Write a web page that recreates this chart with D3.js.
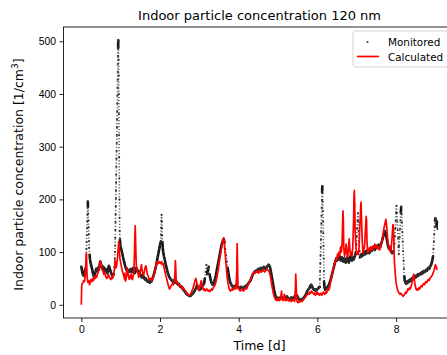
<!DOCTYPE html>
<html>
<head>
<meta charset="utf-8">
<script src="https://cdn.jsdelivr.net/npm/d3@7"></script>
<style>
  body { margin: 0; background: #fff; }
  svg { display: block; font-family: "DejaVu Sans", sans-serif; }
  .axis text { font-size: 10.4px; fill: #000; }
  .axis path, .axis line { stroke: #000; stroke-width: 0.85; }
</style>
</head>
<body>
<div id="chart"></div>
<script>
// time [d], concentration [1/cm3]
const monitored = [
  [0.00,72],[0.02,64],[0.04,57],[0.06,55],[0.08,60],[0.10,68],[0.12,80],
  [0.125,93],[0.13,106],[0.135,119],[0.14,132],[0.145,145],[0.15,158],[0.155,171],[0.16,184],[0.165,196],
  [0.17,186],[0.175,173],[0.18,160],[0.185,147],[0.19,134],[0.195,121],[0.20,108],[0.21,95],[0.22,86],
  [0.24,78],[0.26,72],[0.28,66],[0.30,58],[0.32,54],[0.34,57],[0.36,62],[0.38,68],[0.40,65],[0.42,70],
  [0.44,66],[0.46,74],[0.48,82],[0.50,78],[0.52,71],[0.54,68],[0.56,72],[0.58,66],[0.60,64],[0.62,68],
  [0.64,62],[0.66,60],[0.68,66],[0.70,74],[0.72,70],[0.74,64],[0.76,60],[0.78,56],[0.80,54],[0.82,58],
  [0.84,72],[0.85,88],[0.855,100],
  [0.860,112],[0.863,127],[0.866,142],[0.869,157],[0.872,172],[0.875,187],[0.878,202],[0.881,217],
  [0.884,232],[0.887,247],[0.890,262],[0.893,277],[0.896,292],[0.899,307],[0.902,322],[0.905,337],
  [0.908,352],[0.911,367],[0.914,382],[0.917,397],[0.920,412],[0.923,427],[0.926,442],[0.929,457],
  [0.932,472],[0.935,487],[0.938,498],[0.941,502],[0.944,490],[0.947,465],[0.950,435],[0.953,400],
  [0.956,362],[0.959,322],[0.962,280],[0.965,240],[0.968,200],[0.971,165],[0.975,140],[0.98,124],
  [0.99,115],[1.00,110],[1.02,104],[1.04,98],[1.06,90],[1.08,84],[1.10,78],[1.12,72],[1.14,68],
  [1.16,64],[1.18,66],[1.20,62],[1.22,66],[1.24,64],[1.26,68],[1.28,62],[1.30,66],[1.32,70],[1.34,64],
  [1.36,60],[1.38,66],[1.40,70],[1.42,66],[1.44,62],[1.46,64],[1.48,60],[1.50,58],[1.52,54],[1.54,52],
  [1.56,56],[1.58,54],[1.60,50],[1.62,48],[1.64,50],[1.66,46],[1.68,44],[1.70,46],[1.72,44],[1.74,42],
  [1.76,45],[1.78,44],[1.80,48],[1.82,52],[1.84,56],[1.86,62],[1.88,68],[1.90,74],[1.92,82],[1.94,90],
  [1.96,98],[1.98,106],[2.00,114],[2.02,120],
  [2.025,133],[2.03,146],[2.035,159],[2.04,171],[2.045,158],[2.05,145],[2.055,132],[2.06,119],
  [2.07,108],[2.08,100],[2.10,92],[2.12,86],[2.14,78],[2.16,72],[2.18,66],[2.20,60],[2.22,56],[2.24,52],
  [2.26,50],[2.28,48],[2.30,46],[2.32,44],[2.34,46],[2.36,44],[2.38,42],[2.40,45],[2.42,43],[2.44,40],
  [2.46,38],[2.48,40],[2.50,36],[2.52,34],[2.54,35],[2.56,32],[2.58,30],[2.60,28],[2.62,26],[2.64,24],
  [2.66,22],[2.68,20],[2.70,19],[2.72,18],[2.74,17],[2.76,18],[2.78,17],[2.80,19],[2.82,20],[2.84,22],
  [2.86,24],[2.88,26],[2.90,30],[2.92,32],[2.94,38],[2.96,34],[2.98,30],[3.00,28],[3.02,32],[3.04,30],
  [3.06,34],[3.08,36],[3.10,38],[3.12,40],[3.14,50],[3.16,62],[3.18,76],[3.20,58],[3.22,68],[3.24,72],
  [3.26,58],[3.28,50],[3.30,44],[3.32,40],[3.34,38],[3.36,40],[3.38,44],[3.40,50],[3.42,56],[3.44,64],
  [3.46,72],[3.48,80],[3.50,88],[3.52,96],[3.54,104],[3.56,112],[3.58,118],[3.60,122],[3.62,125],
  [3.64,118],[3.66,106],[3.68,94],[3.70,82],[3.72,70],[3.74,60],[3.76,50],[3.78,44],[3.80,40],[3.82,37],
  [3.84,35],[3.86,33],[3.88,35],[3.90,34],[3.92,36],[3.94,38],[3.96,36],[3.98,34],[4.00,32],[4.02,31],
  [4.04,33],[4.06,34],[4.08,32],[4.10,30],[4.12,32],[4.14,34],[4.16,33],[4.18,36],[4.20,35],[4.22,38],
  [4.24,40],[4.26,42],[4.28,44],[4.30,46],[4.32,50],[4.34,54],[4.36,58],[4.38,60],[4.40,62],[4.42,64],
  [4.44,63],[4.46,66],[4.48,65],[4.50,68],[4.52,66],[4.54,68],[4.56,70],[4.58,67],[4.60,68],[4.62,70],
  [4.64,72],[4.66,70],[4.68,68],[4.70,70],[4.72,72],[4.74,74],[4.76,76],[4.78,74],[4.80,70],[4.82,62],
  [4.84,54],[4.86,45],[4.88,36],[4.90,28],[4.92,21],[4.94,16],[4.96,14],[4.98,12],[5.00,13],[5.02,11],
  [5.04,12],[5.06,14],[5.08,12],[5.10,14],[5.12,12],[5.14,11],[5.16,13],[5.18,12],[5.20,14],[5.22,16],
  [5.24,14],[5.26,12],[5.28,11],[5.30,10],[5.32,12],[5.34,14],[5.36,12],[5.38,10],[5.40,12],[5.42,16],
  [5.44,14],[5.46,12],[5.48,18],[5.50,14],[5.52,12],[5.54,10],[5.56,9],[5.58,10],[5.60,11],[5.62,10],
  [5.64,12],[5.66,14],[5.68,16],[5.70,18],[5.72,22],[5.74,26],[5.76,28],[5.78,30],[5.80,32],[5.82,36],
  [5.84,38],[5.86,36],[5.88,32],[5.90,30],[5.92,28],[5.94,29],[5.96,26],[5.98,28],[6.00,30],[6.02,31],
  [6.04,33],[6.06,34],
  [6.065,49],[6.07,64],[6.075,79],[6.08,94],[6.085,109],[6.09,124],[6.095,139],[6.10,154],[6.105,169],
  [6.11,184],[6.115,199],[6.12,214],[6.125,225],[6.13,212],[6.135,196],[6.14,178],[6.145,158],
  [6.15,136],[6.155,112],[6.16,88],[6.165,64],[6.17,44],
  [6.18,34],[6.20,28],[6.22,30],[6.24,32],[6.26,34],[6.28,36],[6.30,40],[6.32,44],[6.34,48],[6.36,54],
  [6.38,60],[6.40,66],[6.42,72],[6.44,78],[6.46,83],[6.48,88],[6.50,84],[6.52,90],[6.54,86],[6.56,92],
  [6.58,88],[6.60,84],[6.62,90],[6.64,86],[6.66,82],[6.68,88],[6.70,84],[6.72,80],[6.74,86],[6.76,90],
  [6.78,84],[6.80,80],[6.82,86],[6.84,92],[6.86,88],[6.88,84],[6.90,90],[6.92,86],[6.94,90],[6.96,94],
  [6.98,100],[6.99,115],[7.00,130],[7.01,145],[7.02,160],[7.03,174],[7.04,158],[7.05,140],[7.06,120],
  [7.07,102],[7.08,90],[7.10,92],[7.12,96],[7.14,92],[7.16,98],[7.18,95],[7.20,100],[7.22,96],
  [7.24,102],[7.26,98],[7.28,104],[7.30,100],[7.32,98],[7.34,104],[7.36,108],[7.38,102],[7.40,106],
  [7.42,110],[7.44,108],[7.46,104],[7.48,108],[7.50,112],[7.52,108],[7.54,110],[7.56,114],[7.58,112],
  [7.60,110],[7.62,116],[7.64,120],[7.66,126],[7.68,132],[7.70,138],[7.72,140],[7.74,134],[7.76,126],
  [7.78,118],[7.80,110],[7.82,106],[7.84,110],[7.86,104],[7.88,100],[7.90,98],[7.92,100],
  [7.94,102],[7.96,116],[7.97,130],[7.98,145],[7.99,160],[8.00,175],[8.01,188],[8.02,174],[8.03,158],
  [8.04,142],[8.05,126],[8.06,110],[8.07,96],[8.08,112],[8.09,128],[8.10,144],[8.11,160],[8.12,175],
  [8.13,186],[8.14,172],[8.15,156],[8.16,138],[8.17,120],[8.18,102],[8.19,84],[8.20,68],[8.21,54],
  [8.22,46],[8.24,42],[8.26,40],[8.28,44],[8.30,42],[8.32,46],[8.34,44],[8.36,48],[8.38,46],[8.40,50],
  [8.42,48],[8.44,52],[8.46,50],[8.48,54],[8.50,52],[8.52,56],[8.54,54],[8.56,58],[8.58,56],[8.60,58],
  [8.62,60],[8.64,58],[8.66,62],[8.68,60],[8.70,64],[8.72,62],[8.74,64],[8.76,66],[8.78,64],[8.80,68],
  [8.82,70],[8.84,68],[8.86,72],[8.88,74],[8.90,78],[8.92,84],[8.94,92],
  [8.95,106],[8.96,120],[8.97,134],[8.98,148],[8.99,160],[9.00,164],[9.01,150],[9.02,162],[9.03,148],
  [9.04,158],[9.05,144]
];

const calculated = [
  [0.00,0],[0.005,20],[0.01,35],[0.02,40],[0.04,42],[0.06,46],[0.08,44],[0.10,55],[0.11,70],[0.12,90],
  [0.13,98],[0.14,70],[0.15,50],[0.17,42],[0.19,46],[0.21,38],[0.23,44],[0.25,48],[0.27,44],[0.29,50],
  [0.31,46],[0.33,52],[0.35,50],[0.37,55],[0.39,52],[0.41,58],[0.43,62],[0.45,70],[0.47,78],[0.49,82],
  [0.51,74],[0.53,66],[0.55,64],[0.57,58],[0.59,62],[0.61,56],[0.63,52],[0.65,50],[0.67,54],[0.69,58],
  [0.71,52],[0.73,50],[0.75,48],[0.77,52],[0.79,50],[0.81,55],[0.83,60],[0.85,72],[0.86,85],[0.87,78],
  [0.88,70],[0.90,75],[0.92,90],[0.94,110],[0.95,120],[0.96,112],[0.97,100],[0.98,88],[1.00,80],
  [1.02,72],[1.04,65],[1.06,60],[1.08,55],[1.10,48],[1.11,60],[1.12,45],[1.14,50],[1.16,58],[1.17,70],
  [1.18,62],[1.20,55],[1.22,48],[1.24,52],[1.26,58],[1.28,50],[1.30,48],[1.32,56],[1.34,70],[1.35,95],
  [1.36,130],[1.37,150],[1.38,120],[1.39,90],[1.40,72],[1.42,65],[1.44,60],[1.46,52],[1.48,58],
  [1.50,64],[1.52,72],[1.53,76],[1.54,68],[1.56,60],[1.58,56],[1.60,62],[1.62,70],[1.64,74],[1.66,66],
  [1.68,58],[1.70,54],[1.72,50],[1.74,48],[1.76,50],[1.78,46],[1.80,48],[1.82,50],[1.84,54],[1.86,60],
  [1.88,68],[1.90,76],[1.92,82],[1.94,80],[1.96,78],[1.98,82],[2.00,80],[2.02,78],[2.04,82],[2.06,76],
  [2.08,78],[2.10,72],[2.12,64],[2.14,58],[2.16,52],[2.18,46],[2.20,40],[2.22,34],[2.24,30],[2.26,32],
  [2.28,36],[2.30,38],[2.32,40],[2.34,38],[2.36,42],[2.38,60],[2.39,84],[2.40,70],[2.41,48],[2.43,42],
  [2.45,40],[2.47,38],[2.49,36],[2.51,38],[2.53,34],[2.55,32],[2.57,30],[2.59,33],[2.61,30],[2.63,28],
  [2.65,26],[2.67,24],[2.69,22],[2.71,20],[2.73,19],[2.75,18],[2.77,20],[2.79,22],[2.81,26],[2.83,30],
  [2.85,34],[2.87,40],[2.89,46],[2.91,50],[2.93,44],[2.95,36],[2.97,30],[2.99,28],[3.01,34],[3.03,40],
  [3.05,46],[3.07,38],[3.09,32],[3.11,28],[3.13,30],[3.15,26],[3.17,28],[3.19,30],[3.21,27],[3.23,26],
  [3.25,28],[3.27,25],[3.29,27],[3.31,30],[3.33,28],[3.35,32],[3.37,34],[3.39,36],[3.41,40],[3.43,46],
  [3.45,54],[3.47,62],[3.49,72],[3.51,82],[3.53,92],[3.55,102],[3.57,110],[3.59,118],[3.61,124],
  [3.62,127],[3.63,120],[3.65,102],[3.67,84],[3.69,66],[3.71,50],[3.73,40],[3.75,32],[3.77,28],
  [3.79,26],[3.81,28],[3.83,30],[3.85,28],[3.87,32],[3.89,30],[3.91,34],[3.93,30],[3.95,60],[3.96,116],
  [3.97,80],[3.98,36],[4.00,30],[4.02,28],[4.04,26],[4.06,28],[4.08,30],[4.10,28],[4.12,26],[4.14,28],
  [4.16,30],[4.18,32],[4.20,30],[4.22,34],[4.24,38],[4.26,40],[4.28,44],[4.30,48],[4.32,52],[4.34,56],
  [4.36,58],[4.38,60],[4.40,62],[4.42,60],[4.44,62],[4.46,64],[4.48,62],[4.50,60],[4.52,64],[4.54,62],
  [4.56,64],[4.58,62],[4.60,64],[4.62,66],[4.64,64],[4.66,62],[4.68,64],[4.70,66],[4.72,68],[4.74,66],
  [4.76,64],[4.78,62],[4.80,56],[4.82,48],[4.84,38],[4.86,30],[4.88,22],[4.90,16],[4.92,12],[4.94,10],
  [4.96,8],[4.98,10],[5.00,8],[5.02,12],[5.04,8],[5.06,10],[5.08,20],[5.09,26],[5.10,14],[5.12,8],
  [5.14,10],[5.16,20],[5.17,16],[5.18,8],[5.20,10],[5.22,8],[5.24,12],[5.26,9],[5.28,7],[5.30,10],
  [5.32,8],[5.34,6],[5.36,8],[5.38,10],[5.40,8],[5.42,6],[5.44,30],[5.45,58],[5.46,40],[5.47,12],
  [5.49,5],[5.51,4],[5.53,6],[5.55,5],[5.57,7],[5.59,8],[5.61,6],[5.63,8],[5.65,10],[5.67,12],[5.69,14],
  [5.71,16],[5.73,18],[5.75,20],[5.77,22],[5.79,20],[5.81,24],[5.83,22],[5.85,26],[5.87,24],[5.89,22],
  [5.91,20],[5.93,22],[5.95,18],[5.97,20],[5.99,24],[6.01,20],[6.03,22],[6.05,18],[6.07,20],[6.09,22],
  [6.11,18],[6.13,20],[6.15,24],[6.17,22],[6.19,20],[6.21,24],[6.23,22],[6.25,26],[6.27,30],[6.29,28],
  [6.31,32],[6.33,40],[6.35,48],[6.37,56],[6.39,64],[6.41,70],[6.43,76],[6.45,80],[6.47,88],[6.49,84],
  [6.51,96],[6.53,90],[6.55,100],[6.57,94],[6.59,110],[6.61,100],[6.63,120],[6.64,150],[6.65,178],
  [6.66,160],[6.67,110],[6.69,92],[6.71,100],[6.73,115],[6.75,98],[6.77,90],[6.79,108],[6.81,125],
  [6.82,110],[6.84,95],[6.86,100],[6.88,92],[6.90,110],[6.92,160],[6.93,205],[6.94,217],[6.95,190],
  [6.96,140],[6.98,110],[7.00,96],[7.02,100],[7.04,95],[7.06,110],[7.08,150],[7.10,185],[7.11,195],
  [7.12,170],[7.14,120],[7.16,98],[7.18,104],[7.20,112],[7.22,140],[7.24,168],[7.25,160],[7.26,120],
  [7.28,100],[7.30,104],[7.32,108],[7.34,102],[7.36,110],[7.38,106],[7.40,104],[7.42,112],[7.44,108],
  [7.46,115],[7.48,110],[7.50,108],[7.52,112],[7.54,106],[7.56,110],[7.58,104],[7.60,108],[7.62,114],
  [7.64,120],[7.66,130],[7.68,140],[7.70,148],[7.72,155],[7.74,162],[7.76,150],[7.78,130],[7.80,115],
  [7.82,108],[7.84,104],[7.86,100],[7.88,110],[7.90,130],[7.92,152],[7.93,150],[7.94,130],[7.95,100],
  [7.96,78],[7.98,58],[8.00,42],[8.02,34],[8.04,28],[8.06,24],[8.08,22],[8.10,20],[8.12,22],[8.14,20],
  [8.16,18],[8.18,16],[8.20,18],[8.22,20],[8.24,24],[8.26,22],[8.28,26],[8.30,30],[8.32,28],[8.34,32],
  [8.36,30],[8.38,34],[8.40,40],[8.42,48],[8.44,56],[8.45,58],[8.46,50],[8.48,38],[8.50,32],[8.52,28],
  [8.54,30],[8.56,28],[8.58,32],[8.60,30],[8.62,34],[8.64,36],[8.66,34],[8.68,38],[8.70,40],[8.72,38],
  [8.74,42],[8.76,44],[8.78,42],[8.80,46],[8.82,48],[8.84,46],[8.86,50],[8.88,52],[8.90,54],[8.92,56],
  [8.94,60],[8.96,64],[8.98,70],[9.00,76],[9.02,72],[9.04,66]
];

const xTicks = [0, 2, 4, 6, 8];
const yTicks = [0, 100, 200, 300, 400, 500];
const titleText = "Indoor particle concentration 120 nm";
const legendLabels = ["Monitored", "Calculated"];

const W = 447, H = 355;
const plot = {left: 63.5, right: 455.6, top: 27, bottom: 318};

const svg = d3.select("#chart").append("svg")
    .attr("width", W).attr("height", H)
    .attr("viewBox", `0 0 ${W} ${H}`);

const x = d3.scaleLinear().domain([-0.453, 9.513]).range([plot.left, plot.right]);
const y = d3.scaleLinear().domain([-25.1, 527.1]).range([plot.bottom, plot.top]);

svg.append("clipPath").attr("id", "clip")
    .append("rect")
    .attr("x", plot.left).attr("y", plot.top)
    .attr("width", plot.right - plot.left).attr("height", plot.bottom - plot.top);

const g = svg.append("g").attr("clip-path", "url(#clip)");

// --- monitored: steep jumps only as dotted columns, the rest merges into a band ---
const runs = [];
const jumps = [];
let run = [monitored[0]];
for (let i = 1; i < monitored.length; i++) {
    const a = monitored[i - 1], b = monitored[i];
    const dy = Math.abs(y(b[1]) - y(a[1]));
    const dx = Math.abs(x(b[0]) - x(a[0]));
    if (dy > 6 && dy > 2 * dx) {
        runs.push(run);
        jumps.push([a, b]);
        run = [b];
    } else {
        run.push(b);
    }
}
runs.push(run);

const lineMon = d3.line().x(d => x(d[0])).y(d => y(d[1]));

g.selectAll(".mon-jump").data(jumps).enter()
    .append("path")
    .attr("class", "mon-jump")
    .attr("d", lineMon)
    .attr("fill", "none")
    .attr("stroke", "#666")
    .attr("stroke-width", 1.6)
    .attr("stroke-dasharray", "1.2 1.8");

g.selectAll(".mon-run").data(runs.filter(r => r.length > 1)).enter()
    .append("path")
    .attr("class", "mon-run")
    .attr("d", lineMon)
    .attr("fill", "none")
    .attr("stroke", "#111")
    .attr("stroke-width", 2.6)
    .attr("stroke-linejoin", "round")
    .attr("stroke-linecap", "round");

g.selectAll(".dot-mon").data(monitored).enter()
    .append("circle")
    .attr("class", "dot-mon")
    .attr("cx", d => x(d[0]))
    .attr("cy", d => y(d[1]))
    .attr("r", 1)
    .attr("fill", "#333");

// --- calculated line ---
const lineCalc = d3.line().x(d => x(d[0])).y(d => y(d[1]));
g.append("path")
    .datum(calculated)
    .attr("d", lineCalc)
    .attr("fill", "none")
    .attr("stroke", "#ff0000")
    .attr("stroke-width", 1.7)
    .attr("stroke-linejoin", "round");

// axes
svg.append("g")
    .attr("class", "axis")
    .attr("transform", `translate(0,${plot.bottom})`)
    .call(d3.axisBottom(x).tickValues(xTicks).tickSize(4).tickPadding(4).tickFormat(d3.format("d")))
    .call(a => a.select(".domain").remove());

svg.append("g")
    .attr("class", "axis")
    .attr("transform", `translate(${plot.left},0)`)
    .call(d3.axisLeft(y).tickValues(yTicks).tickSize(4).tickPadding(3.5).tickFormat(d3.format("d")))
    .call(a => a.select(".domain").remove());

// frame
svg.append("rect")
    .attr("x", plot.left).attr("y", plot.top)
    .attr("width", plot.right - plot.left).attr("height", plot.bottom - plot.top)
    .attr("fill", "none").attr("stroke", "#000").attr("stroke-width", 0.85);

// title and labels
svg.append("text")
    .attr("x", (plot.left + plot.right) / 2).attr("y", 19.5)
    .attr("text-anchor", "middle")
    .style("font-size", "13px")
    .text(titleText);

svg.append("text")
    .attr("x", (plot.left + plot.right) / 2).attr("y", 349.5)
    .attr("text-anchor", "middle")
    .style("font-size", "12.5px")
    .text("Time [d]");

const yl = svg.append("text")
    .attr("transform", `translate(23,174.5) rotate(-90)`)
    .attr("text-anchor", "middle")
    .style("font-size", "12.5px");
yl.append("tspan").text("Indoor particle concentration [1/cm");
yl.append("tspan").attr("dy", -5).style("font-size", "9px").text("3");
yl.append("tspan").attr("dy", 5).text("]");

// legend
const leg = svg.append("g");
leg.append("rect")
    .attr("x", 353).attr("y", 31).attr("width", 99).attr("height", 36).attr("rx", 2.5)
    .attr("fill", "#fff").attr("fill-opacity", 0.8)
    .attr("stroke", "#ccc").attr("stroke-width", 0.85);
leg.append("circle").attr("cx", 367.5).attr("cy", 42).attr("r", 1).attr("fill", "#333");
leg.append("line").attr("x1", 357).attr("x2", 379).attr("y1", 56.5).attr("y2", 56.5)
    .attr("stroke", "#ff0000").attr("stroke-width", 1.7);
leg.selectAll(".leg-text").data(legendLabels).enter()
    .append("text")
    .attr("class", "leg-text")
    .attr("x", 388)
    .attr("y", (d, i) => 45.5 + i * 15)
    .style("font-size", "10.4px")
    .text(d => d);
</script>
</body>
</html>
